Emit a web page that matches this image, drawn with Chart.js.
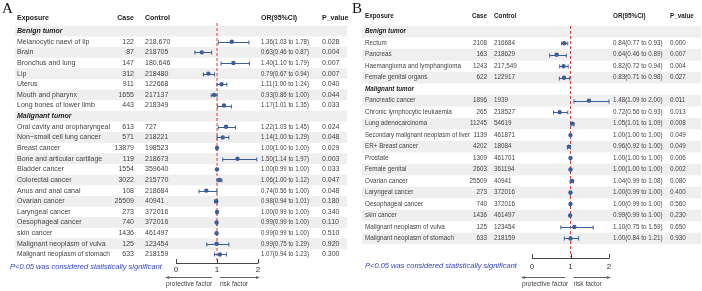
<!DOCTYPE html>
<html>
<head>
<meta charset="utf-8">
<script src="https://cdn.jsdelivr.net/npm/chart.js@4.4.1/dist/chart.umd.min.js"></script>
<style>
  body { margin: 0; background: #fff; width: 702px; height: 291px; overflow: hidden; position: relative; }
  canvas { position: absolute; top: 0; }
</style>
</head>
<body>
<canvas id="chartA" width="351" height="291" style="left:0"></canvas>
<canvas id="chartB" width="351" height="291" style="left:351px"></canvas>
<script>
// Panel A data
const aSections = ['Benign tumor', 'Malignant tumor'];
const aSectionSizes = [7, 13];
const aExposure = [
  'Melanocytic naevi of lip', 'Brain', 'Bronchus and lung', 'Lip', 'Uterus', 'Mouth and pharynx',
  'Long bones of lower limb',
  'Oral cavity and oropharyngeal', 'Non\u2212small cell lung cancer', 'Breast cancer',
  'Bone and articular cartilage', 'Bladder cancer', 'Colorectal cancer', 'Anus and anal canal',
  'Ovarian cancer', 'Laryngeal cancer', 'Oesophageal cancer', 'skin cancer',
  'Malignant neoplasm of vulva', 'Malignant neoplasm of stomach'
];
const aCase = ['122', '87', '147', '312', '911', '1655', '443',
  '613', '571', '13879', '119', '1554', '3022', '108', '25509', '273', '740', '1436', '125', '633'];
const aControl = ['218,670', '218705', '180,646', '218480', '122668', '217137', '218349',
  '727', '218221', '198523', '218673', '359640', '215770', '218684', '40941', '372016', '372016',
  '461497', '123454', '218159'];
const aOR = [1.36, 0.63, 1.40, 0.79, 1.11, 0.93, 1.17,
  1.22, 1.14, 1.00, 1.50, 1.00, 1.06, 0.74, 0.98, 1.00, 0.99, 0.99, 0.99, 1.07];
const aLow = [1.03, 0.46, 1.10, 0.67, 1.00, 0.86, 1.01,
  1.03, 1.00, 1.00, 1.14, 0.99, 1.00, 0.56, 0.94, 0.99, 0.99, 0.99, 0.75, 0.94];
const aHigh = [1.78, 0.87, 1.79, 0.94, 1.24, 1.00, 1.35,
  1.45, 1.29, 1.00, 1.97, 1.00, 1.12, 1.00, 1.01, 1.00, 1.00, 1.00, 1.29, 1.23];
const aP = ['0.028', '0.004', '0.007', '0.007', '0.040', '0.044', '0.033',
  '0.024', '0.048', '0.029', '0.003', '0.033', '0.047', '0.048', '0.180', '0.340', '0.110',
  '0.510', '0.920', '0.300'];

// Panel B data
const bSections = ['Benign tumor', 'Malignant tumor'];
const bSectionSizes = [4, 13];
const bExposure = [
  'Rectum', 'Pancreas', 'Haemangioma and lymphangioma', 'Female genital organs',
  'Pancreatic cancer', 'Chronic lymphocytic leukaemia', 'Lung adenocarcinoma',
  'Secondary malignant neoplasm of liver', 'ER+ Breast cancer', 'Prostate', 'Female genital',
  'Ovarian cancer', 'Laryngeal cancer', 'Oesophageal cancer', 'skin cancer',
  'Malignant neoplasm of vulva', 'Malignant neoplasm of stomach'
];
const bCase = ['2108', '163', '1243', '622',
  '1896', '265', '11245', '1139', '4202', '1309', '2603', '25509', '273', '740', '1436', '125', '633'];
const bControl = ['216684', '218629', '217,549', '122917',
  '1939', '218527', '54619', '461871', '18084', '461701', '361194', '40941', '372016', '372016',
  '461497', '123454', '218159'];
const bOR = [0.84, 0.64, 0.82, 0.83,
  1.48, 0.72, 1.05, 1.00, 0.96, 1.00, 1.00, 1.04, 1.00, 1.00, 0.99, 1.10, 1.00];
const bLow = [0.77, 0.46, 0.72, 0.71,
  1.09, 0.56, 1.01, 1.00, 0.92, 1.00, 1.00, 0.99, 0.99, 0.99, 0.99, 0.75, 0.84];
const bHigh = [0.93, 0.89, 0.94, 0.98,
  2.00, 0.93, 1.09, 1.00, 1.00, 1.00, 1.00, 1.08, 1.00, 1.00, 1.00, 1.59, 1.21];
const bP = ['0.000', '0.007', '0.004', '0.027',
  '0.011', '0.013', '0.008', '0.049', '0.049', '0.006', '0.002', '0.080', '0.400', '0.560',
  '0.230', '0.650', '0.930'];

const axisTicks = [0, 1, 2];
const note = 'P<0.05 was considered statistically significant';

// couleurs et polices
const BLUE = '#3c5d9a';
const RED = '#e23b3b';
const FONT = '"Liberation Sans", Arial, sans-serif';

// mise en page de chaque panneau (pixels dans son canvas)
const layoutA = {
  letter: 'A', letterX: 2, letterY: 13, fs: 7, nameGap: 24,
  exposureX: 17, caseRight: 134, controlX: 145, orX: 261, orW: 48, pX: 322,
  stripeL: 15, stripeR: 347, headerY: 18, row1: 29.3, sp: 10.8,
  padL: 176, padR: 93, axisY: 263, tickY: 270, arrowY: 277, factorY: 284,
  noteX: 10, noteY: 267, dashTop: 23
};
const layoutB = {
  letter: 'B', letterX: 1, letterY: 13, fs: 6.3, nameGap: 17,
  exposureX: 14, caseRight: 136, controlX: 143, orX: 262, orW: 50, pX: 319,
  stripeL: 11, stripeR: 350, headerY: 16, row1: 30, sp: 11.66,
  padL: 181, padR: 93, axisY: 258, tickY: 267, arrowY: 277, factorY: 284,
  noteX: 14, noteY: 266, dashTop: 26
};

// construire la liste des lignes (sections + expositions)
function buildRows(sections, sizes) {
  const rows = [];
  let i = 0, r = 1;
  sections.forEach((s, k) => {
    rows.push({ type: 'section', text: s, row: r++ });
    for (let n = 0; n < sizes[k]; n++) {
      rows.push({ type: 'item', i: i++, row: r++ });
    }
  });
  return rows;
}

function makeForestPlugin(L, d, rows) {
  return {
    id: 'forest' + L.letter,
    beforeDatasetsDraw(chart) {
      const ctx = chart.ctx;
      const xs = chart.scales.x, ys = chart.scales.y;
      ctx.save();

      // bandes grises
      rows.forEach(r => {
        if (r.row % 2 === 1) {
          const yc = ys.getPixelForValue(r.row);
          ctx.fillStyle = '#efefef';
          ctx.fillRect(L.stripeL, yc - L.sp / 2, L.stripeR - L.stripeL, L.sp);
        }
      });

      // lettre du panneau
      ctx.fillStyle = '#111';
      ctx.font = '15px "Liberation Serif", "Times New Roman", serif';
      ctx.textBaseline = 'alphabetic';
      ctx.textAlign = 'left';
      ctx.fillText(L.letter, L.letterX, L.letterY);

      // en-tetes
      ctx.textBaseline = 'middle';
      ctx.font = 'bold ' + L.fs + 'px ' + FONT;
      ctx.fillStyle = '#222';
      ctx.fillText('Exposure', L.exposureX, L.headerY);
      ctx.fillText('Control', L.controlX, L.headerY);
      ctx.fillText('OR(95%CI)', L.orX, L.headerY);
      ctx.fillText('P_value', L.pX, L.headerY);
      ctx.textAlign = 'right';
      ctx.fillText('Case', L.caseRight, L.headerY);

      // lignes du tableau
      rows.forEach(r => {
        const yc = ys.getPixelForValue(r.row);
        if (r.type === 'section') {
          ctx.textAlign = 'left';
          ctx.font = 'italic bold ' + L.fs + 'px ' + FONT;
          ctx.fillStyle = '#222';
          ctx.fillText(r.text, L.exposureX, yc);
          return;
        }
        const i = r.i;
        ctx.font = L.fs + 'px ' + FONT;
        ctx.fillStyle = '#444';
        ctx.textAlign = 'left';
        ctx.fillText(d.exposure[i], L.exposureX, yc, L.caseRight - L.nameGap - L.exposureX);
        ctx.fillText(d.control[i], L.controlX, yc);
        const orTxt = d.or[i].toFixed(2) + '(' + d.low[i].toFixed(2) + ' to ' + d.high[i].toFixed(2) + ')';
        ctx.fillText(orTxt, L.orX, yc, L.orW);
        ctx.fillText(d.p[i], L.pX, yc);
        ctx.textAlign = 'right';
        ctx.fillText(d.cases[i], L.caseRight, yc);
      });

      // ligne de reference a OR = 1
      const x1 = xs.getPixelForValue(1);
      ctx.strokeStyle = RED;
      ctx.lineWidth = 1;
      ctx.setLineDash([3, 2]);
      ctx.beginPath();
      ctx.moveTo(x1, L.dashTop);
      ctx.lineTo(x1, L.axisY - 1);
      ctx.stroke();
      ctx.setLineDash([]);

      // intervalles de confiance
      ctx.strokeStyle = BLUE;
      ctx.lineWidth = 1;
      rows.forEach(r => {
        if (r.type !== 'item') return;
        const yc = Math.round(ys.getPixelForValue(r.row)) + 0.5;
        const xl = xs.getPixelForValue(d.low[r.i]);
        const xh = xs.getPixelForValue(d.high[r.i]);
        ctx.beginPath();
        ctx.moveTo(xl, yc); ctx.lineTo(xh, yc);
        ctx.moveTo(xl, yc - 2); ctx.lineTo(xl, yc + 2);
        ctx.moveTo(xh, yc - 2); ctx.lineTo(xh, yc + 2);
        ctx.stroke();
      });

      // axe
      const p0 = xs.getPixelForValue(axisTicks[0]);
      const p2 = xs.getPixelForValue(axisTicks[axisTicks.length - 1]);
      ctx.strokeStyle = '#444';
      ctx.beginPath();
      ctx.moveTo(p0, L.axisY + 0.5); ctx.lineTo(p2, L.axisY + 0.5);
      axisTicks.forEach(t => {
        const px = Math.round(xs.getPixelForValue(t)) + 0.5;
        ctx.moveTo(px, L.axisY + 0.5); ctx.lineTo(px, L.axisY - 4);
      });
      ctx.stroke();
      ctx.fillStyle = '#333';
      ctx.font = '8px ' + FONT;
      ctx.textAlign = 'center';
      axisTicks.forEach(t => ctx.fillText(String(t), xs.getPixelForValue(t), L.tickY));

      // fleches
      ctx.strokeStyle = '#666';
      ctx.fillStyle = '#666';
      const la = p0 - 10, lb = x1 - 5, ra = x1 + 3, rb = p2 + 1;
      ctx.beginPath();
      ctx.moveTo(la, L.arrowY + 0.5); ctx.lineTo(lb, L.arrowY + 0.5);
      ctx.moveTo(ra, L.arrowY + 0.5); ctx.lineTo(rb, L.arrowY + 0.5);
      ctx.stroke();
      ctx.beginPath();
      ctx.moveTo(la - 1, L.arrowY + 0.5); ctx.lineTo(la + 3, L.arrowY - 1); ctx.lineTo(la + 3, L.arrowY + 2);
      ctx.closePath();
      ctx.moveTo(rb + 1, L.arrowY + 0.5); ctx.lineTo(rb - 3, L.arrowY - 1); ctx.lineTo(rb - 3, L.arrowY + 2);
      ctx.closePath();
      ctx.fill();
      ctx.fillStyle = '#444';
      ctx.font = '6.5px ' + FONT;
      ctx.textAlign = 'left';
      ctx.fillText('protective factor', la, L.factorY);
      ctx.fillText('risk factor', ra, L.factorY);

      // note
      ctx.fillStyle = '#3344cc';
      ctx.font = 'italic 7.5px ' + FONT;
      ctx.fillText(note, L.noteX, L.noteY);

      ctx.restore();
    }
  };
}

function drawPanel(canvasId, L, d, sections, sizes) {
  const rows = buildRows(sections, sizes);
  const items = rows.filter(r => r.type === 'item');
  const yMin = 1 - L.row1 / L.sp;
  const yMax = yMin + 291 / L.sp;
  return new Chart(document.getElementById(canvasId), {
    type: 'scatter',
    data: {
      datasets: [{
        data: items.map(r => ({ x: d.or[r.i], y: r.row })),
        backgroundColor: BLUE,
        borderColor: BLUE,
        pointRadius: 2.2,
        pointHoverRadius: 2.2,
        borderWidth: 0
      }]
    },
    options: {
      responsive: false,
      animation: false,
      devicePixelRatio: 1,
      layout: { padding: { left: L.padL, right: L.padR, top: 0, bottom: 0 } },
      plugins: { legend: { display: false }, tooltip: { enabled: false } },
      scales: {
        x: { type: 'linear', min: 0, max: 2, display: false },
        y: { type: 'linear', min: yMin, max: yMax, reverse: true, display: false }
      }
    },
    plugins: [makeForestPlugin(L, d, rows)]
  });
}

drawPanel('chartA', layoutA, {
  exposure: aExposure, cases: aCase, control: aControl, or: aOR, low: aLow, high: aHigh, p: aP
}, aSections, aSectionSizes);

drawPanel('chartB', layoutB, {
  exposure: bExposure, cases: bCase, control: bControl, or: bOR, low: bLow, high: bHigh, p: bP
}, bSections, bSectionSizes);
</script>
</body>
</html>
